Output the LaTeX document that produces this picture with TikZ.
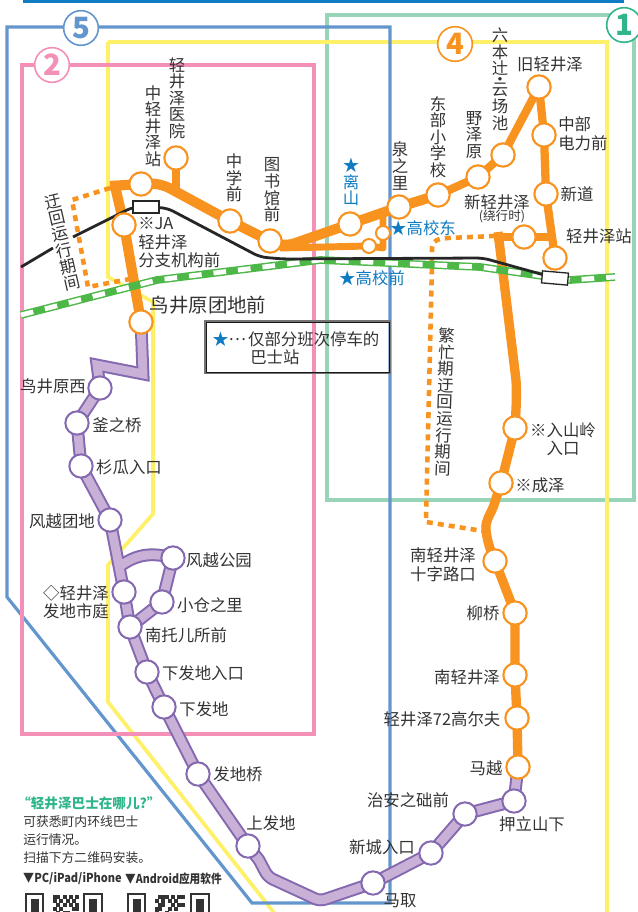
\documentclass[tikz,border=0pt]{standalone}
\usepackage{fontspec}
\setmainfont{Noto Sans CJK SC}
\newfontfamily\jpfont{Noto Sans CJK JP}
\usetikzlibrary{calc}
\definecolor{ink}{HTML}{333333}
\definecolor{orangeR}{HTML}{F7931E}
\definecolor{purpleO}{HTML}{8468B0}
\definecolor{purpleL}{HTML}{C8B0D6}
\definecolor{blueF}{HTML}{6496CE}
\definecolor{pinkF}{HTML}{F48FB8}
\definecolor{greenF}{HTML}{98D5B8}
\definecolor{yellowF}{HTML}{FFF06A}
\definecolor{tealT}{HTML}{2FB58B}
\definecolor{blueT}{HTML}{0F7CC1}
\definecolor{railG}{HTML}{4DB848}
\pgfdeclarelayer{frames}\pgfdeclarelayer{routes}\pgfdeclarelayer{rails}
\pgfsetlayers{frames,routes,rails,main}
\tikzset{
  lbl/.style={font=\fontsize{12.3}{12.45}\selectfont, text=ink, inner sep=0pt, align=center},
  lblw/.style={font=\fontsize{12.3}{13.9}\selectfont, text=ink, inner sep=0pt, align=left},
  lblc/.style={font=\fontsize{12.3}{13.9}\selectfont, text=ink, inner sep=0pt, align=center},
  lblb/.style={lbl, text=blueT},
  orst/.style={circle, draw=orangeR, line width=1.6pt, fill=white, minimum size=17.5pt, inner sep=0pt},
  orsm/.style={circle, draw=orangeR, line width=1.5pt, fill=white, minimum size=10.5pt, inner sep=0pt},
  pust/.style={circle, draw=purpleO, line width=1.5pt, fill=white, minimum size=17.5pt, inner sep=0pt},
  oroute/.style={draw=orangeR, line width=7.6pt, line join=round},
  orouteB/.style={draw=orangeR, line width=6.2pt, line join=round},
  orouteC/.style={draw=orangeR, line width=5.2pt, line join=round},
  oshort/.style={draw=orangeR, line width=3.4pt, dash pattern=on 4.5pt off 3.8pt},
  proute/.style={draw=purpleO, line width=1.5pt, double=purpleL, double distance=6.6pt, miter limit=20},
  frameline/.style={line width=#1, line join=miter},
  numc/.style={circle, draw=#1, text=#1, fill=white, line width=1.2pt, minimum size=26pt, inner sep=0pt, font=\fontsize{22}{22}\selectfont\bfseries},
  jrbox/.style={draw=black!85, fill=white, line width=1pt, minimum width=19.5pt, minimum height=9pt, inner sep=0pt},
}
\newcommand{\qrcode}[3]{%
  \begin{scope}[shift={(#1,893)}]
    \draw[ink, line width=1.8pt] (1,1) rectangle (18,24);
    \fill[ink] (6,6) rectangle (14,19);
    \draw[ink, line width=1.8pt] (#2+1,1) rectangle (#2+19,24);
    \fill[ink] (#2+6,6) rectangle (#2+14,19);
    \foreach \mx/\my in {#3} {\fill[ink] (\mx,\my) rectangle ++(3.8,3.8);}
  \end{scope}}
\begin{document}
\begin{tikzpicture}[x=0.75pt,y=-0.75pt]
\useasboundingbox (0,0) rectangle (637,912);

% ---------- stations
\node[orst] (zq) at (141,184) {};
\node[orst] (yy) at (176,158) {};
\node[orst] (zx) at (230,221) {};
\node[orst] (ts) at (270,241) {};
\node[orst] (ja) at (124,225) {};
\node[orst] (td) at (141,322) {};
\node[orst] (ls) at (350,224) {};
\node[orsm] (s1) at (369,246) {};
\node[orsm] (s2) at (383,233) {};
\node[orst] (qz) at (399,207) {};
\node[orst] (db) at (438,195) {};
\node[orst] (yz) at (478,177) {};
\node[orst] (lb) at (503,155) {};
\node[orst] (jq) at (539,87) {};
\node[orst] (zb) at (544,135) {};
\node[orst] (xd) at (546,194) {};
\node[orst] (qs) at (555,258) {};
\node[orst] (xq) at (524,237) {};
\node[orst] (rs) at (515,428) {};
\node[orst] (cz) at (501,483) {};
\node[orst] (nsz) at (495,561) {};
\node[orst] (lq) at (515,613) {};
\node[orst] (nq) at (515,675) {};
\node[orst] (gf) at (517,718) {};
\node[orst] (my) at (518,767) {};
\node[pust] (yl) at (514,801) {};
\node[pust] (za) at (465,814) {};
\node[pust] (xc) at (431,853) {};
\node[pust] (mq) at (373,883) {};
\node[pust] (sf) at (248,846) {};
\node[pust] (fq) at (198,774) {};
\node[pust] (xf) at (164,707) {};
\node[pust] (xr) at (147,672) {};
\node[pust] (nt) at (130,627) {};
\node[pust] (fs) at (124,592) {};
\node[pust] (xc2) at (162,602) {};
\node[pust] (fg) at (173,558) {};
\node[pust] (ft) at (110,520) {};
\node[pust] (sg) at (81,466) {};
\node[pust] (fz) at (77,423) {};
\node[pust] (nx) at (100,388) {};
\node[jrbox] (jr1) at (146,207) {};
\node[jrbox, rotate=-5] (jr2) at (555,278) {};

% ---------- frames
\begin{pgfonlayer}{frames}
\fill[blueT] (23,0) rectangle (624,3.4);
\draw[greenF, frameline=2.4pt] (327,15) -- (634,15) -- (634,500) -- (327,500) -- cycle;
\draw[yellowF, frameline=2.8pt] (108,42) -- (607,42) -- (607,914) (108,42) -- (108,277) -- (153,302) -- (153,514) -- (108,565) -- (108,702) -- (275,914);
\draw[blueF, frameline=2.4pt] (7,27) -- (390,27) -- (390,903) -- (252,903) -- (7,597) -- cycle;
\draw[pinkF, frameline=3pt] (22,65) -- (314,65) -- (314,734) -- (22,734) -- cycle;
\end{pgfonlayer}

% ---------- routes
\begin{pgfonlayer}{routes}
\draw[proute] (td.center) -- (143,374) -- (97,365) -- (nx.center) -- (fz.center) -- (sg.center) -- (ft.center) -- (fs.center) -- (nt.center) -- (xr.center) -- (xf.center) -- (fq.center) -- (sf.center) -- (259,860) [rounded corners=4pt] -- (268,877) -- (320,901) -- (mq.center) [sharp corners] -- (xc.center) -- (za.center) -- (yl.center) -- (my.center)
  (119,567) .. controls (136,554) and (152,552) .. (fg.center) -- (xc2.center) -- (nt.center);
\draw[orouteB] (yy.center) -- (176,190);
\draw[oroute] (110,186) -- (zq.center) [rounded corners=8pt] -- (160,183) -- (zx.center) -- (ts.center) -- (284,247) [sharp corners] -- (ls.center) -- (qz.center) -- (db.center);
\draw[orouteB] (db.center) -- (yz.center) -- (lb.center) -- (jq.center);
\draw[orouteB] (jq.center) -- (zb.center) -- (xd.center) -- (qs.center);
\draw[orouteC] (280,248) -- (s1.center) -- (383,248) -- (s2.center) -- (383,212);
\draw[orouteB] (494,237) -- (xq.center) -- (551,237);
\draw[oroute] (115,186) -- (ja.center) -- (td.center);
\draw[oroute, line width=7pt] (498,232) -- (516,380) .. controls (517,395) and (516,410) .. (rs.center) -- (cz.center) -- (494,505) .. controls (490,516) and (485,520) .. (486,530) .. controls (487,540) and (490,550) .. (nsz.center) -- (lq.center) -- (nq.center) -- (gf.center) -- (my.center);
\draw[oshort] (110,188) -- (72,200) -- (88,287) -- (135,278);
\draw[oshort] (495,236) -- (448,238) [rounded corners=6pt] -- (432,240) -- (432,262) [sharp corners] -- (426,522) -- (483,531);
\end{pgfonlayer}

% ---------- rails
\begin{pgfonlayer}{rails}
\draw[railG, line width=5.8pt] (21,315) -- (157,280) -- (320,260) -- (480,267) -- (570,280) -- (615,277);
\draw[white, line width=3.6pt, dash pattern=on 9.5pt off 9pt] (21,315) -- (157,280) -- (320,260) -- (480,267) -- (570,280) -- (615,277);
\draw[black!85, line width=2.1pt] (21,267) -- (53,248);
\draw[black!85, line width=2.1pt, rounded corners=5pt] (73,237) -- (133,207) -- (jr1.center) -- (167,208) -- (260,257) -- (283,259) -- (483,258) -- (jr2.center);
\end{pgfonlayer}

% ---------- numbered rings
\node[numc=blueF] (n5) at (81,28) {5};
\node[numc=pinkF] (n2) at (52,65) {2};
\node[numc=orangeR] (n4) at (455,44) {4};
\node[numc=tealT] (n1) at (624,25) {1};

% ---------- legend
\draw[black!55, line width=1.4pt] (205,321) rectangle (390,373);
\draw[black!90, line width=0.5pt] (206,322) rectangle (389,372);
\node[lblw, anchor=west] (leg) at (212,348) {{\color{blueT}★}\raisebox{3.2pt}{\jpfont …}\hspace{1.6pt}仅部分班次停车的\\\hspace{28.5pt}巴士站};

% ---------- labels
\node[lbl] (l1) at (153,126) {中\\轻\\井\\泽\\站};
\node[lbl] (l2) at (177,98) {轻\\井\\泽\\医\\院};
\node[lbl] (l3) at (234,178) {中\\学\\前};
\node[lbl] (l4) at (272,190) {图\\书\\馆\\前};
\node[lblw, anchor=west] (l5) at (138,243) {※JA\\轻井泽\\分支机构前};
\node[lbl, font=\fontsize{14.6}{14.6}\selectfont] (l6) at (208,305) {鸟井原团地前};
\node[lbl, rotate=13] (l7) at (62.5,242.5) {迂\\回\\运\\行\\期\\间};
\node[lbl] (l8) at (500,79) {六\\本\\辻\\[-4.5pt]·\\[-4.5pt]云\\场\\池};
\node[lbl] (l9) at (550,64) {旧轻井泽};
\node[lblw, anchor=west] (l10) at (558,134) {中部\\电力前};
\node[lbl] (l11) at (577,194) {新道};
\node[lbl] (l12) at (599,236) {轻井泽站};
\node[lbl] (l13) at (497,202) {新轻井泽};
\node[lbl, font=\fontsize{9.4}{9.4}\selectfont] (l14) at (502,216) {(绕行时)};
\node[lbl] (l15) at (438,137) {东\\部\\小\\学\\校};
\node[lbl] (l16) at (474,135) {野\\泽\\原};
\node[lbl] (l17) at (400,166) {泉\\之\\里};
\node[lblb] (l18) at (351,182) {★\\离\\山};
\node[lblb] (l19) at (423,228) {★高校东};
\node[lblb] (l20) at (372,278) {★高校前};
\node[lbl, rotate=-2] (l21) at (445,402) {繁\\忙\\期\\迂\\回\\运\\行\\期\\间};
\node[lblc] (l22) at (563,439) {※入山岭\\入口};
\node[lbl] (l23) at (540,485) {※成泽};
\node[lblc] (l24) at (443,565) {南轻井泽\\十字路口};
\node[lbl] (l25) at (483,613) {柳桥};
\node[lbl] (l26) at (467,677) {南轻井泽};
\node[lbl] (l27) at (442,719) {轻井泽72高尔夫};
\node[lbl] (l28) at (486,768) {马越};
\node[lbl] (l29) at (532,824) {押立山下};
\node[lbl] (l30) at (408,800) {治安之础前};
\node[lbl] (l31) at (382,847) {新城入口};
\node[lbl] (l32) at (400,901) {马取};
\node[lbl] (l33) at (271,823) {上发地};
\node[lbl] (l34) at (238,774) {发地桥};
\node[lbl] (l35) at (204,709) {下发地};
\node[lbl] (l36) at (203,673) {下发地入口};
\node[lbl] (l37) at (186,635) {南托儿所前};
\node[lbl] (l38) at (210,605) {小仓之里};
\node[lbl] (l39) at (219,560) {风越公园};
\node[lblc] (l40) at (76,602) {◇轻井泽\\发地市庭};
\node[lbl] (l41) at (62,521) {风越团地};
\node[lbl] (l42) at (129,467) {杉瓜入口};
\node[lbl] (l43) at (117,425) {釜之桥};
\node[lbl] (l44) at (53,386) {鸟井原西};

% ---------- bottom note
\node[lbl, anchor=west, text=tealT, font=\fontsize{10.2}{10.2}\selectfont\bfseries] (t1) at (17,803) {“轻井泽巴士在哪儿?”};
\node[lbl, anchor=west, font=\fontsize{9.6}{9.6}\selectfont] (t2) at (23,822) {可获悉町内环线巴士};
\node[lbl, anchor=west, font=\fontsize{9.6}{9.6}\selectfont] (t3) at (23,840) {运行情况。};
\node[lbl, anchor=west, font=\fontsize{9.6}{9.6}\selectfont] (t4) at (23,858) {扫描下方二维码安装。};
\node[lbl, anchor=west, xscale=0.9, transform shape, font=\fontsize{9.2}{9.2}\selectfont\bfseries] (t5) at (23,879) {▼PC/iPad/iPhone};
\node[lbl, anchor=west, xscale=0.87, transform shape, font=\fontsize{9.2}{9.2}\selectfont\bfseries] (t6) at (125,879) {▼Android应用软件};

% ---------- QR codes
\qrcode{25}{58}{28/2,31/2,38/2,44/2,50/2,28/6,34/6,41/6,47/6,31/10,38/10,44/10,50/10,28/14,34/14,47/14,31/18,38/18,41/18,50/14}
\qrcode{127}{63}{31/2,38/2,34/2,44/2,50/2,54/2,28/6,34/6,41/6,47/6,31/10,34/10,44/10,50/10,28/14,31/14,41/14,54/10,28/18,38/18,47/14}
\end{tikzpicture}
\end{document}
